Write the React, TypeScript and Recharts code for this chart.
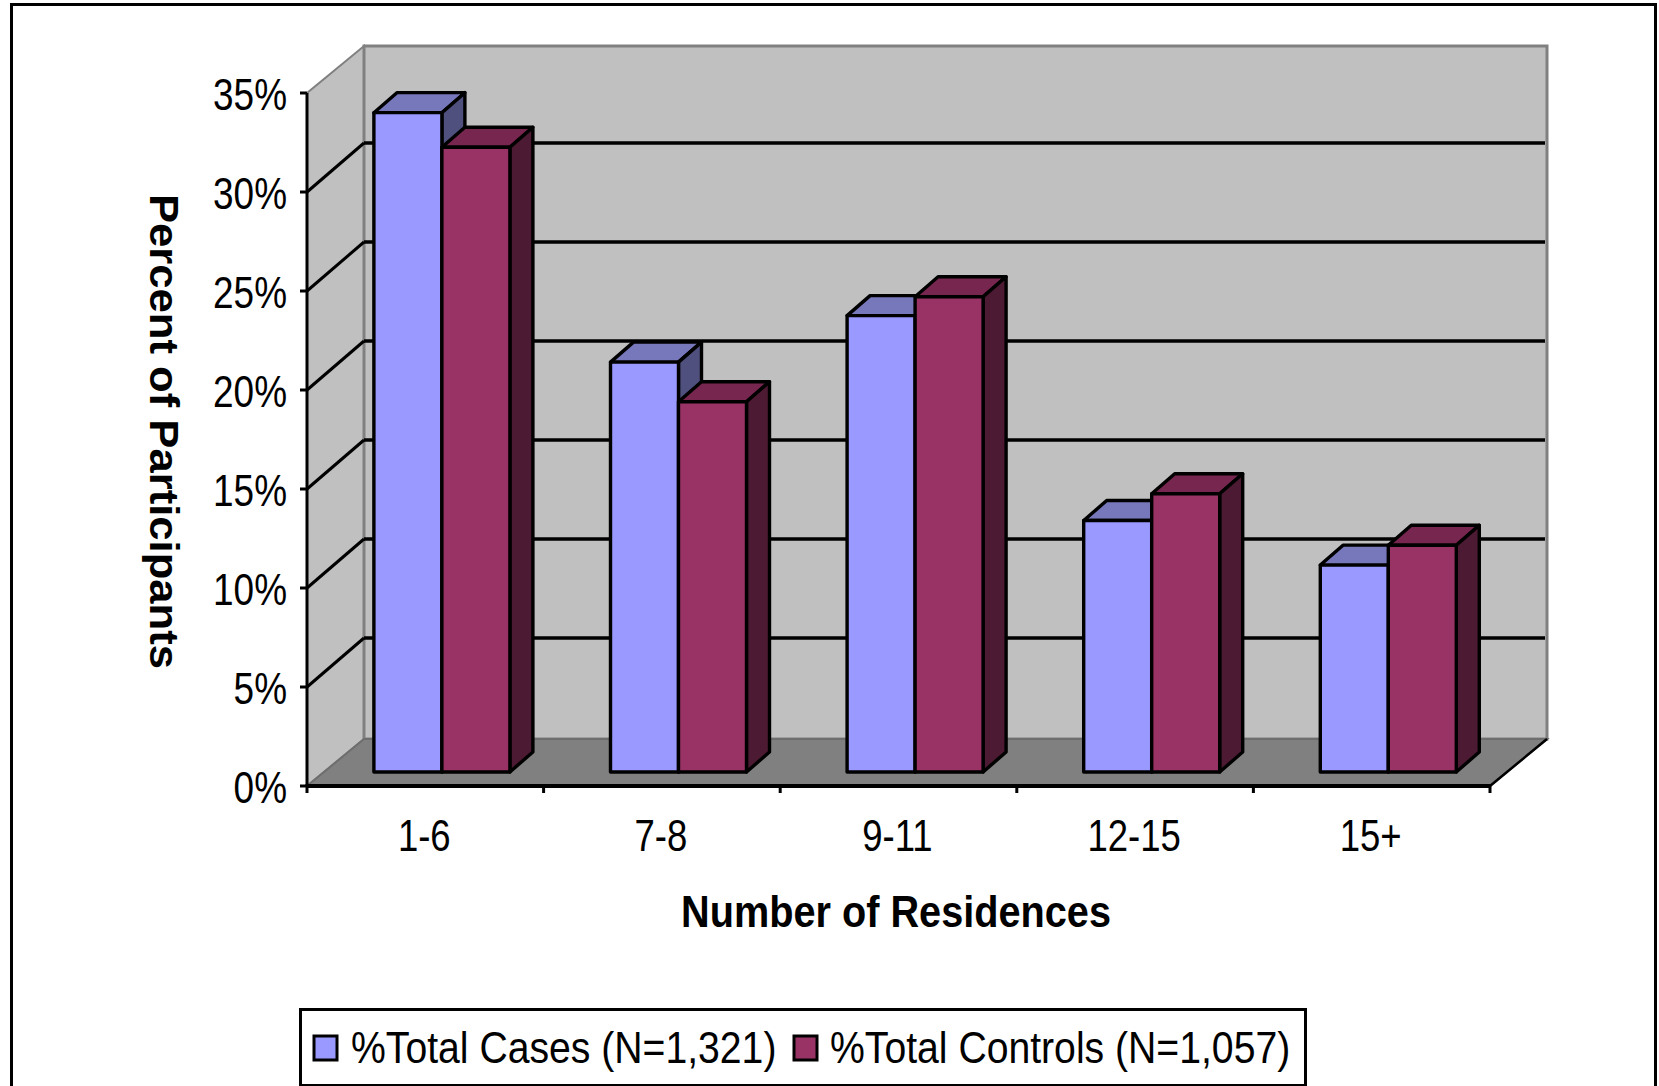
import { BarChart, Bar, XAxis, YAxis, CartesianGrid, ReferenceArea, Legend, Label } from "recharts";

const categories = ["1-6", "7-8", "9-11", "12-15", "15+"];
const casesPct = [33.3, 20.7, 23.05, 12.7, 10.45];
const controlsPct = [31.55, 18.7, 24.0, 14.05, 11.45];
const yTicks = [0, 5, 10, 15, 20, 25, 30, 35];

const casesName = "%Total Cases (N=1,321)";
const controlsName = "%Total Controls (N=1,057)";

const data = categories.map((name, i) => ({ name, cases: casesPct[i], controls: controlsPct[i] }));

const FONT = "'Liberation Sans', Arial, sans-serif";
// depth of the fake 3d box
const DX = 57;
const DY = 47;
const GRID_DY = 49;
// bars sit a little way into the box
const BAR_DX = 16.5;
const BAR_DY = 14;
const BAR_DEPTH_X = 23;
const BAR_DEPTH_Y = 20;
const BAND = 1183 / 5;

function box3d(topColor: string, sideColor: string) {
  return function Box(props: any) {
    const { fill, width, height } = props;
    const x = props.x + BAR_DX;
    const y = props.y - BAR_DY;
    const r = x + width;
    const b = y + height;
    return (
      <g stroke="#000" strokeWidth={3.4} strokeLinejoin="round">
        <polygon points={`${x},${y} ${x + BAR_DEPTH_X},${y - BAR_DEPTH_Y} ${r + BAR_DEPTH_X},${y - BAR_DEPTH_Y} ${r},${y}`} fill={topColor} />
        <polygon points={`${r},${y} ${r + BAR_DEPTH_X},${y - BAR_DEPTH_Y} ${r + BAR_DEPTH_X},${b - BAR_DEPTH_Y} ${r},${b}`} fill={sideColor} />
        <rect x={x} y={y} width={width} height={height} fill={fill} />
      </g>
    );
  };
}

function Walls(props: any) {
  const { x, y, width, height } = props;
  const r = x + width;
  const b = y + height;
  return (
    <g>
      <polygon points={`${x},${b} ${x},${y} ${x + DX},${y - DY} ${x + DX},${b - DY}`} fill="#c0c0c0" stroke="#808080" strokeWidth={2} />
      <rect x={x + DX} y={y - DY} width={width} height={height} fill="#c0c0c0" stroke="#808080" strokeWidth={3} />
      <polygon points={`${x},${b} ${r},${b} ${r + DX},${b - DY} ${x + DX},${b - DY}`} fill="#808080" stroke="#6e6e6e" strokeWidth={2} />
      <line x1={r} y1={b} x2={r + DX} y2={b - DY} stroke="#000" strokeWidth={2.5} />
    </g>
  );
}

function GridLine(props: any) {
  const { x1, x2, y1, index } = props;
  // skip the floor and the top edge, the walls draw those
  if (Math.abs(y1 - 786) < 2 || Math.abs(y1 - 93) < 2) return <g key={index} />;
  return (
    <g key={index} stroke="#000">
      <line x1={x1} y1={y1} x2={x1 + DX} y2={y1 - GRID_DY} strokeWidth={3} />
      <line x1={x1 + DX} y1={y1 - GRID_DY} x2={x2 + DX - 2} y2={y1 - GRID_DY} strokeWidth={3.4} />
    </g>
  );
}

function YTick(props: any) {
  const { x, y, payload } = props;
  return (
    <text transform={`translate(${x},${y + 16.5}) scale(0.84,1)`} textAnchor="end" fontFamily={FONT} fontSize={44} fill="#000">
      {payload.value}%
    </text>
  );
}

function XTick(props: any) {
  const { x, y, payload, index } = props;
  const axisY = y - 10;
  return (
    <g>
      <line x1={x - BAND / 2} y1={axisY} x2={x - BAND / 2} y2={axisY + 9} stroke="#000" strokeWidth={3} />
      {index === categories.length - 1 && (
        <line x1={x + BAND / 2} y1={axisY} x2={x + BAND / 2} y2={axisY + 9} stroke="#000" strokeWidth={3} />
      )}
      <text transform={`translate(${x - 1},851) scale(0.83,1)`} textAnchor="middle" fontFamily={FONT} fontSize={44} fill="#000">
        {payload.value}
      </text>
    </g>
  );
}

function LegendBox(props: any) {
  const items = props.payload || [];
  const spots = [
    { swatch: 15, text: 52 },
    { swatch: 495, text: 531 },
  ];
  return (
    <svg width={1008} height={78} style={{ display: "block" }}>
      <rect x={1.5} y={1.5} width={1005} height={76} fill="#fff" stroke="#000" strokeWidth={3} />
      {items.map((it: any, i: number) => (
        <g key={it.value}>
          <rect x={spots[i].swatch} y={28} width={23} height={24} fill={it.color} stroke="#000" strokeWidth={3} />
          <text transform={`translate(${spots[i].text},55) scale(0.89,1)`} fontFamily={FONT} fontSize={44} fill="#000">
            {it.value}
          </text>
        </g>
      ))}
    </svg>
  );
}

export default function App() {
  return (
    <div style={{ position: "absolute", left: 0, top: 0, width: 1659, height: 1086, background: "#fff", overflow: "hidden" }}>
      <div style={{ position: "absolute", left: 10, top: 3, width: 1641, height: 1100, border: "3px solid #000" }} />
      <BarChart
        width={1659}
        height={1086}
        data={data}
        margin={{ top: 93, right: 169, left: 0, bottom: 0 }}
        barCategoryGap="21.3%"
        barGap={0}
        style={{ position: "absolute", left: 0, top: 0 }}
      >
        <ReferenceArea yAxisId={0} xAxisId={0} y1={0} y2={35} shape={Walls} ifOverflow="visible" zIndex={-200} />
        <CartesianGrid vertical={false} horizontal={GridLine as any} syncWithTicks />
        <XAxis
          dataKey="name"
          height={222}
          interval={0}
          axisLine={{ stroke: "#000", strokeWidth: 4 }}
          tickLine={false}
          tick={XTick}
        >
          <Label
            content={() => (
              <text x={681} y={927} textLength={430} lengthAdjust="spacingAndGlyphs" fontFamily={FONT} fontWeight="bold" fontSize={44} fill="#000">
                Number of Residences
              </text>
            )}
          />
        </XAxis>
        <YAxis
          width={307}
          domain={[0, 35]}
          ticks={yTicks}
          interval={0}
          tickSize={7}
          tickMargin={13}
          axisLine={{ stroke: "#000", strokeWidth: 3 }}
          tickLine={{ stroke: "#000", strokeWidth: 3 }}
          tick={YTick}
        >
          <Label
            content={() => (
              <text transform="translate(150,194) rotate(90)" textLength={475} lengthAdjust="spacingAndGlyphs" fontFamily={FONT} fontWeight="bold" fontSize={40} fill="#000">
                Percent of Participants
              </text>
            )}
          />
        </YAxis>
        <Bar dataKey="cases" name={casesName} fill="#9999ff" shape={box3d("#7777bb", "#50507f")} isAnimationActive={false} />
        <Bar dataKey="controls" name={controlsName} fill="#993366" shape={box3d("#77264f", "#4d1a33")} isAnimationActive={false} />
        <Legend
          content={LegendBox}
          wrapperStyle={{ position: "absolute", left: 299, top: 1008, width: 1008, height: 78, bottom: "auto" }}
        />
      </BarChart>
    </div>
  );
}
